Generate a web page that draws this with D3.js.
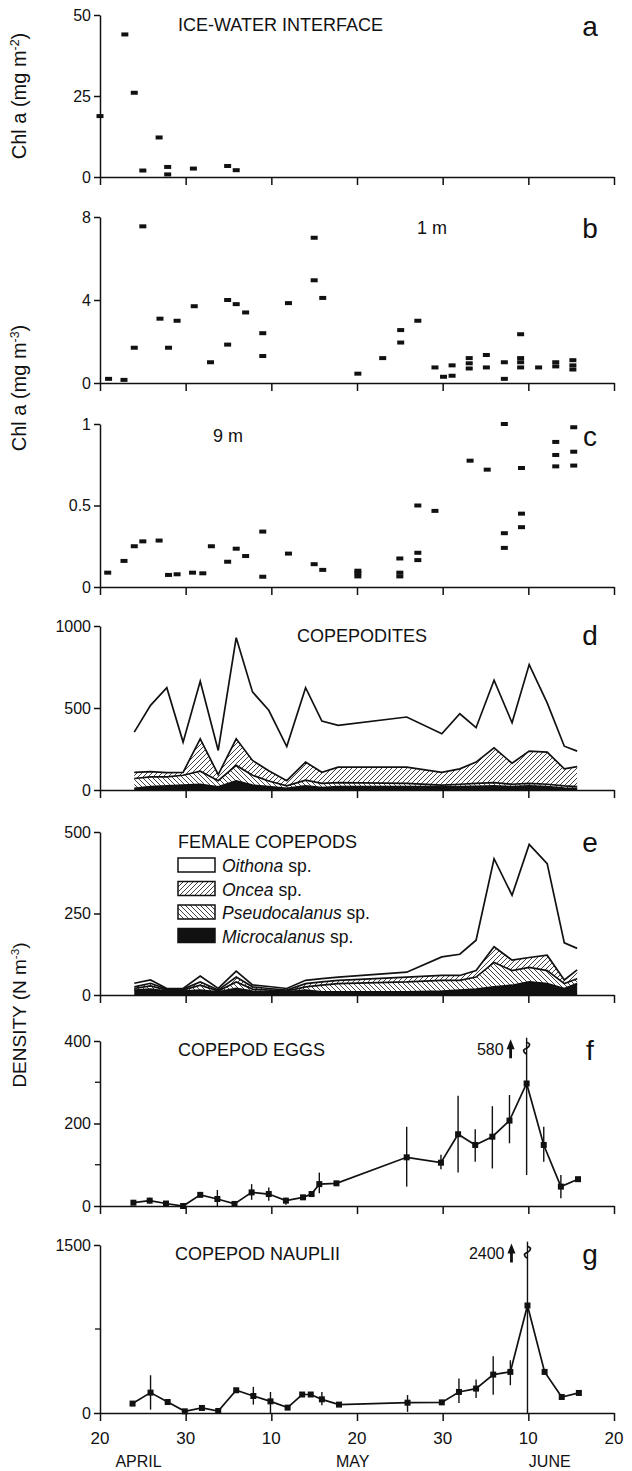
<!DOCTYPE html>
<html><head><meta charset="utf-8">
<script src="https://cdn.jsdelivr.net/npm/d3@7"></script>
<style>
body{margin:0;background:#fff}
text{font-family:"Liberation Sans",Arial,Helvetica,sans-serif;fill:#111}
</style></head>
<body><svg id="chart" width="632" height="1471"></svg>
<script>
// ---------- DATA ----------
const xTickValues=[0,10,20,30,40,50,60];           // days after 20 April
const xTickLabels=["20","30","10","20","30","10","20"];
const monthLabels=["APRIL","MAY","JUNE"];
const monthDays=[4.5,29.5,52.5];

// a: ice-water interface chl a (mg m-2)
const aDays=[0,2.9,4,5,6.9,7.9,7.9,10.9,14.9,15.9];
const aChl=[18.8,44,26,2,12.2,3.1,0.8,2.6,3.4,2.1];

// b: 1 m chl a (mg m-3)
const bDays=[1,2.8,4,5,7,8,9,11,12.9,14.9,14.9,15.9,17,19,19,22,25,25,26,30.1,33,35.1,35.1,37.1,39.1,40.1,41.1,41.1,43.1,43.1,43.1,45.1,45.1,47.2,47.2,49.1,49.1,49.1,49.1,51.2,53.2,53.2,55.2,55.2,55.2];
const bChl=[0.2,0.15,1.7,7.55,3.1,1.7,3.0,3.7,1.0,4.0,1.85,3.8,3.4,2.4,1.3,3.85,7.0,4.95,4.1,0.45,1.2,2.55,1.95,3.0,0.75,0.3,0.35,0.85,1.2,0.95,0.7,1.35,0.75,1.0,0.2,2.35,1.2,1.0,0.75,0.75,1.0,0.8,1.1,0.85,0.65];

// c: 9 m chl a (mg m-3)
const cDays=[0.9,2.8,4,5,6.9,8,9,10.8,12,13,14.9,15.9,17,19,19,22,25,26,30.1,30.1,30.1,35,35,35,37.1,37.1,37.1,39.1,43.2,45.2,47.2,47.2,47.2,49.2,49.2,49.2,53.2,53.2,53.2,55.3,55.3,55.3];
const cChl=[0.088,0.16,0.25,0.28,0.285,0.074,0.078,0.088,0.084,0.25,0.155,0.235,0.19,0.34,0.063,0.205,0.14,0.105,0.1,0.085,0.065,0.175,0.088,0.065,0.5,0.21,0.165,0.467,0.775,0.72,1.0,0.33,0.24,0.73,0.45,0.367,0.89,0.81,0.74,0.98,0.83,0.745];

// d: copepodites (N m-3), stacked
const dDays=[4,5.9,7.8,9.7,11.7,13.8,15.9,17.8,19.7,21.8,24,25.9,27.8,35.8,39.9,42,43.9,46,48.1,50.1,52.2,54.2,55.7];
const dMicrocalanus=[10,20,25,30,35,20,55,30,20,10,25,15,20,20,20,20,22,25,20,25,20,12,10];
const dPseudocalanus=[60,60,55,60,80,37,95,60,35,15,35,25,25,20,10,15,18,20,15,15,15,13,10];
const dOncea=[38,32,26,18,197,37,162,90,63,32,110,68,94,99,78,94,130,212,128,197,196,104,123];
const dOithona=[245,404,518,184,351,147,617,418,368,208,454,312,255,306,235,336,210,412,247,528,300,138,94];

// e: female copepods (N m-3), stacked
const eDays=dDays;
const eMicrocalanus=[15,18,12,12,15,10,20,12,10,10,15,10,10,10,12,15,18,25,30,40,35,20,35];
const ePseudocalanus=[5,10,3,3,15,2,20,6,5,2,10,20,25,30,33,30,37,75,45,45,40,15,15];
const eOncea=[5,8,3,3,10,3,15,7,5,3,10,10,10,15,15,15,20,48,32,30,47,11,27];
const eOithona=[11,10,2,2,18,5,18,6,6,5,10,10,10,15,57,65,93,270,199,347,281,114,66];

// f: copepod eggs (N m-3) with error bars
const fDays=[3.9,5.8,7.7,9.7,11.7,13.7,15.7,17.7,19.7,21.7,23.7,24.7,25.6,27.6,35.8,39.8,41.8,43.8,45.8,47.8,49.8,51.8,53.8,55.8];
const fMean=[8,13,6,0,27,17,5,33,29,13,21,29,53,55,118,105,174,148,168,207,297,148,47,65];
const fLow=[8,6,6,0,27,0,5,15,13,3,21,29,31,55,47,89,81,107,91,152,75,107,19,65];
const fHigh=[8,20,6,0,27,39,5,53,45,20,21,29,81,55,192,124,267,186,242,269,580,192,75,65];

// g: copepod nauplii (N m-3) with error bars
const gDays=[3.8,5.9,7.9,9.9,11.9,13.8,15.9,17.9,19.9,21.9,23.6,24.6,25.9,27.9,35.9,39.9,41.9,43.9,45.9,47.9,49.9,51.9,53.9,55.9];
const gMean=[84,182,98,15,45,18,203,152,104,48,165,165,122,75,92,95,188,218,343,367,960,367,143,179];
const gLow=[84,30,75,15,45,18,203,75,0,48,165,165,69,75,10,95,90,134,164,248,0,367,143,179];
const gHigh=[84,337,120,15,45,18,203,233,188,48,165,165,188,75,160,95,307,298,507,471,2400,367,143,179];

// ---------- LAYOUT ----------
const svg=d3.select("#chart");
const X0=100,X1=614;
const x=d3.scaleLinear().domain([0,60]).range([X0,X1]);

const defs=svg.append("defs");
function hatch(id,d){
  const p=defs.append("pattern").attr("id",id).attr("patternUnits","userSpaceOnUse").attr("width",5).attr("height",5);
  p.append("rect").attr("width",5).attr("height",5).attr("fill","#fff");
  p.append("path").attr("d",d).attr("stroke","#111").attr("stroke-width",0.8);
}
hatch("fwd","M-1,1 l2,-2 M0,5 l5,-5 M4,6 l2,-2");
hatch("bwd","M-1,4 l2,2 M0,0 l5,5 M4,-1 l2,2");

function panel(top,zero,max,ticks,minor){
  const y=d3.scaleLinear().domain([0,max]).range([zero,top]);
  const g=svg.append("g");
  const ya=d3.axisLeft(y).tickValues(ticks).tickSize(6).tickSizeOuter(0).tickPadding(3)
    .tickFormat(d=>d3.format("~g")(d));
  const yg=g.append("g").attr("transform",`translate(${X0},0)`).call(ya);
  if(minor){
    minor.forEach(v=>g.append("line").attr("x1",X0-5).attr("x2",X0).attr("y1",y(v)).attr("y2",y(v)).attr("stroke","#111").attr("stroke-width",1.3));
  }
  const xa=d3.axisBottom(x).tickValues(xTickValues).tickSize(8).tickSizeOuter(0).tickFormat("");
  const xg=g.append("g").attr("transform",`translate(0,${zero})`).call(xa);
  [yg,xg].forEach(a=>{a.selectAll("path,line").attr("stroke","#111").attr("stroke-width",1.5);
    a.selectAll("text").attr("font-size",16).style("fill","#111");});
  return {y,g,xg};
}

function letter(t,yy){svg.append("text").attr("x",590).attr("y",yy).attr("font-size",28).attr("text-anchor","middle").text(t);}
function title(t,xx,yy,anchor){svg.append("text").attr("x",xx).attr("y",yy).attr("font-size",18).attr("text-anchor",anchor||"middle").text(t);}

function scatter(p,days,vals){
  p.g.selectAll(null).data(days.map((d,i)=>[d,vals[i]])).join("rect")
   .attr("x",d=>x(d[0])-3.5).attr("y",d=>p.y(d[1])-2).attr("width",7).attr("height",4).attr("fill","#111");
}

// a
const pa=panel(15,177,50,[0,25,50]);
scatter(pa,aDays,aChl);
title("ICE-WATER INTERFACE",178,31,"start");
letter("a",36);

// b
const pb=panel(217,383,8,[0,4,8]);
scatter(pb,bDays,bChl);
title("1 m",432,234);
letter("b",238);

// c
const pc=panel(424,587,1,[0,0.5,1]);
scatter(pc,cDays,cChl);
title("9 m",228,442);
letter("c",446);

// stacked areas
function stacked(p,days,layers){
  const keys=["micro","pseudo","oncea","oithona"];
  const rows=days.map((d,i)=>({day:d,micro:layers[0][i],pseudo:layers[1][i],oncea:layers[2][i],oithona:layers[3][i]}));
  const series=d3.stack().keys(keys)(rows);
  const fills={micro:"#111",pseudo:"url(#bwd)",oncea:"url(#fwd)",oithona:"#fff"};
  const area=d3.area().x(d=>x(d.data.day)).y0(d=>p.y(d[0])).y1(d=>p.y(d[1]));
  const line=d3.line().x(d=>x(d.data.day)).y(d=>p.y(d[1]));
  const lg=p.g.append("g");
  series.forEach(s=>lg.append("path").attr("d",area(s)).attr("fill",fills[s.key]).attr("stroke","none"));
  series.forEach(s=>lg.append("path").attr("d",line(s)).attr("fill","none").attr("stroke","#111").attr("stroke-width",1.7).attr("stroke-linejoin","miter"));
  p.xg.raise();
}

// d
const pd=panel(626,790,1000,[0,500,1000]);
stacked(pd,dDays,[dMicrocalanus,dPseudocalanus,dOncea,dOithona]);
title("COPEPODITES",362,642);
letter("d",645);

// e
const pe=panel(832,995,500,[0,250,500]);
stacked(pe,eDays,[eMicrocalanus,ePseudocalanus,eOncea,eOithona]);
title("FEMALE COPEPODS",178,848,"start");
letter("e",852);
const legendNames=["Oithona","Oncea","Pseudocalanus","Microcalanus"];
const legendFills=["#fff","url(#fwd)","url(#bwd)","#111"];
legendNames.forEach((n,i)=>{
  const yy=858+i*23.5;
  svg.append("rect").attr("x",178).attr("y",yy).attr("width",37).attr("height",14).attr("fill",legendFills[i]).attr("stroke","#111").attr("stroke-width",1.5);
  const t=svg.append("text").attr("x",222).attr("y",yy+14).attr("font-size",17.5);
  t.append("tspan").attr("font-style","italic").text(n);
  t.append("tspan").text(" sp.");
});

// error-bar line panels
function errPanel(p,days,mean,low,high,maxVal){
  const rows=days.map((d,i)=>({d,m:mean[i],lo:low[i],hi:high[i]}));
  p.g.append("path").attr("d",d3.line().x(r=>x(r.d)).y(r=>p.y(r.m))(rows)).attr("fill","none").attr("stroke","#111").attr("stroke-width",1.7);
  p.g.selectAll(null).data(rows.filter(r=>r.hi>r.lo)).join("line")
    .attr("x1",r=>x(r.d)).attr("x2",r=>x(r.d)).attr("y1",r=>p.y(Math.min(r.hi,maxVal*1.02))).attr("y2",r=>p.y(r.lo))
    .attr("stroke","#111").attr("stroke-width",1.4);
  p.g.selectAll(null).data(rows).join("rect")
    .attr("x",r=>x(r.d)-3).attr("y",r=>p.y(r.m)-3).attr("width",6).attr("height",6).attr("fill","#111");
  const big=rows.filter(r=>r.hi>maxVal);
  big.forEach(r=>{
    const bx=x(r.d), by=p.y(maxVal*0.95);
    p.g.append("path").attr("d",`M${bx},${by-7} q6,2 0,6 q-6,2 0,6`).attr("fill","none").attr("stroke","#111").attr("stroke-width",1.7);
    const ax=bx-16;
    p.g.append("path").attr("d",`M${ax},${by-10} l-4,10 l2.6,0 l0,9 l2.8,0 l0,-9 l2.6,0 z`).attr("fill","#111");
    p.g.append("text").attr("x",ax-7).attr("y",by+6).attr("font-size",16).attr("text-anchor","end").text(d3.format("d")(r.hi));
  });
}

// f
const pf=panel(1041,1206,400,[0,200,400],[100,300]);
errPanel(pf,fDays,fMean,fLow,fHigh,400);
title("COPEPOD EGGS",178,1056,"start");
letter("f",1060);

// g
const pg=panel(1245,1413,1500,[0,1500],[750]);
errPanel(pg,gDays,gMean,gLow,gHigh,1500);
title("COPEPOD NAUPLII",175,1260,"start");
letter("g",1264);

// bottom x labels
svg.append("g").selectAll("text").data(xTickValues).join("text")
  .attr("x",d=>x(d)).attr("y",1444).attr("text-anchor","middle").attr("font-size",17).text((d,i)=>xTickLabels[i]);
svg.append("g").selectAll("text").data(monthDays).join("text")
  .attr("x",d=>x(d)).attr("y",1467).attr("text-anchor","middle").attr("font-size",16).text((d,i)=>monthLabels[i]);

// y labels
function ylab(yc,main,sup,close,fs){
  const t=svg.append("text").attr("transform",`translate(26,${yc}) rotate(-90)`).attr("text-anchor","middle").attr("font-size",fs);
  t.append("tspan").text(main);
  t.append("tspan").attr("dy",-7).attr("font-size",fs*0.62).text(sup);
  t.append("tspan").attr("dy",7).text(close);
}
ylab(96,"Chl a (mg m","-2",")",20);
ylab(388,"Chl a (mg m","-3",")",20);
ylab(1015,"DENSITY (N m","-3",")",19);
</script></body></html>
